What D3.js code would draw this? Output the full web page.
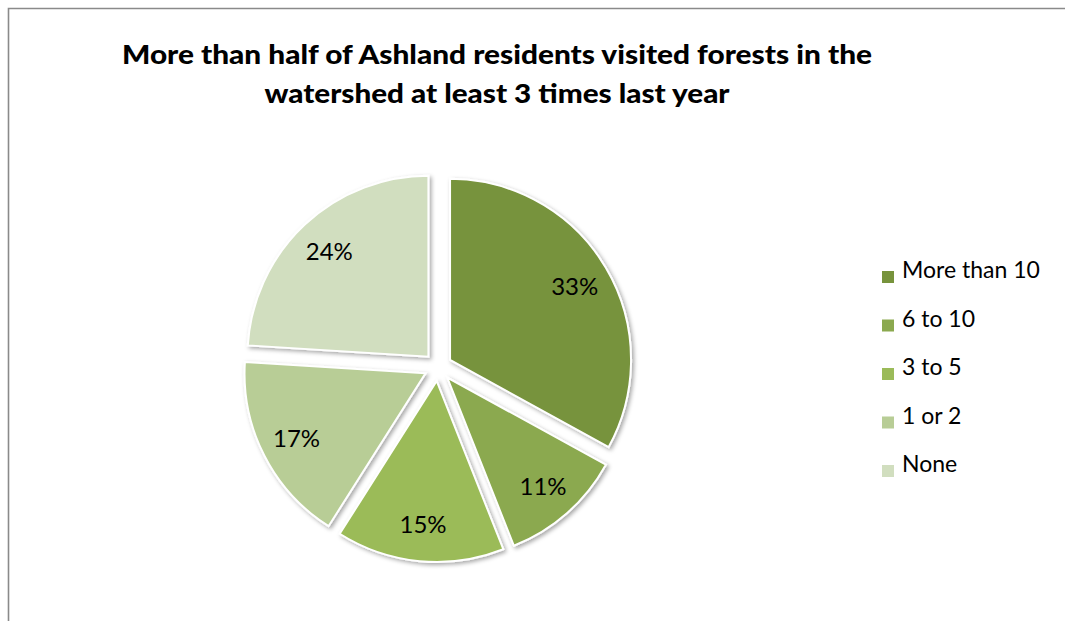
<!DOCTYPE html>
<html>
<head>
<meta charset="utf-8">
<script src="https://cdn.jsdelivr.net/npm/d3@7"></script>
<style>
  html, body { margin: 0; padding: 0; background: #fff; }
  svg { display: block; }
</style>
</head>
<body>
<svg id="chart" width="1065" height="621"></svg>
<script>
// Visit frequency categories and their share of residents (%)
const categories = ["More than 10", "6 to 10", "3 to 5", "1 or 2", "None"];
const shares = [33, 11, 15, 17, 24];
const colors = ["#77933C", "#8BA94F", "#9BBB59", "#B8CD96", "#D1DEBF"];
const titleLines = [
  "More than half of Ashland residents visited forests in the",
  "watershed at least 3 times last year"
];

const svg = d3.select("#chart");
const font = "Lato, 'Open Sans', sans-serif";

// Chart frame (only top and left edges fall inside the view)
svg.append("path")
  .attr("d", "M8.5,621 V8.5 H1065")
  .attr("fill", "none")
  .attr("stroke", "#8a8a8a")
  .attr("stroke-width", 1.6);

// Title
const titleWidths = [750, 465];
svg.append("g").selectAll("text")
  .data(titleLines)
  .join("text")
  .attr("x", 497)
  .attr("y", (d, i) => 64 + i * 39)
  .attr("text-anchor", "middle")
  .attr("font-family", font)
  .attr("font-weight", 900)
  .attr("font-size", 27)
  .attr("fill", "#000")
  .attr("textLength", (d, i) => titleWidths[i])
  .attr("lengthAdjust", "spacingAndGlyphs")
  .text(d => d);

// Soft shadow under each slice
const defs = svg.append("defs");
const f = defs.append("filter").attr("id", "shadow")
  .attr("x", "-20%").attr("y", "-20%").attr("width", "140%").attr("height", "140%");
f.append("feDropShadow")
  .attr("dx", 2).attr("dy", 2).attr("stdDeviation", 2)
  .attr("flood-color", "#000").attr("flood-opacity", 0.35);

// Exploded pie
const cx = 438, cy = 367, radius = 181, explode = 14;
const pie = d3.pie().sort(null).value(d => d.value);
const arc = d3.arc().innerRadius(0).outerRadius(radius);
const data = pie(categories.map((c, i) => ({ name: c, value: shares[i], color: colors[i] })));

const pieG = svg.append("g").attr("transform", `translate(${cx},${cy})`);
const slices = pieG.selectAll("g.slice")
  .data(data)
  .join("g")
  .attr("class", "slice")
  .attr("transform", d => {
    const a = (d.startAngle + d.endAngle) / 2;
    return `translate(${explode * Math.sin(a)},${-explode * Math.cos(a)})`;
  });

slices.append("path")
  .attr("d", arc)
  .attr("fill", d => d.data.color)
  .attr("stroke", "#fff")
  .attr("stroke-width", 2)
  .attr("filter", "url(#shadow)");

// Percentage labels placed along each slice's bisector
const labelR = radius * 0.8;
slices.append("text")
  .attr("x", d => labelR * Math.sin((d.startAngle + d.endAngle) / 2))
  .attr("y", d => -labelR * Math.cos((d.startAngle + d.endAngle) / 2))
  .attr("dy", "0.35em")
  .attr("text-anchor", "middle")
  .attr("font-family", font)
  .attr("font-size", 24)
  .attr("fill", "#000")
  .text(d => d.data.value + "%");

// Legend
const legend = svg.append("g").attr("transform", "translate(882,0)");
const rows = legend.selectAll("g")
  .data(categories)
  .join("g")
  .attr("transform", (d, i) => `translate(0,${278 + i * 48.5})`);
rows.append("rect")
  .attr("x", 0).attr("y", -7)
  .attr("width", 12).attr("height", 12)
  .attr("fill", (d, i) => colors[i]);
rows.append("text")
  .attr("x", 20).attr("y", 0)
  .attr("font-family", font)
  .attr("font-size", 23)
  .attr("fill", "#000")
  .text(d => d);
</script>
</body>
</html>
